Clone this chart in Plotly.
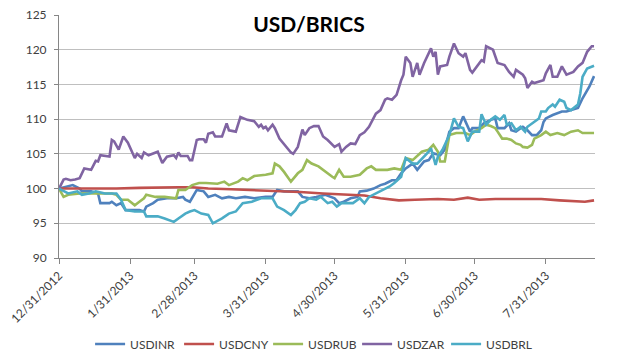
import plotly.graph_objects as go

# ---------------- data (index, 12/31/2012 = 100) ----------------
TICK_DATES = ["2012-12-31", "2013-01-31", "2013-02-28", "2013-03-31",
              "2013-04-30", "2013-05-31", "2013-06-30", "2013-07-31"]
TICK_LABELS = ["12/31/2012", "1/31/2013", "2/28/2013", "3/31/2013",
               "4/30/2013", "5/31/2013", "6/30/2013", "7/31/2013"]

INR_DATES = ["2012-12-31", "2013-01-03", "2013-01-06", "2013-01-09", "2013-01-10", "2013-01-14",
             "2013-01-17", "2013-01-18", "2013-01-22", "2013-01-23", "2013-01-25", "2013-01-27",
             "2013-01-29", "2013-02-04", "2013-02-06", "2013-02-07", "2013-02-10", "2013-02-12",
             "2013-02-16", "2013-02-20", "2013-02-23", "2013-02-24", "2013-02-26", "2013-03-01",
             "2013-03-04", "2013-03-06", "2013-03-09", "2013-03-12", "2013-03-15", "2013-03-18",
             "2013-03-22", "2013-03-26", "2013-03-31", "2013-04-03", "2013-04-05", "2013-04-08",
             "2013-04-14", "2013-04-16", "2013-04-19", "2013-04-22", "2013-04-26", "2013-04-30",
             "2013-05-02", "2013-05-04", "2013-05-07", "2013-05-10", "2013-05-11", "2013-05-14",
             "2013-05-17", "2013-05-20", "2013-05-22", "2013-05-25", "2013-05-27", "2013-05-29",
             "2013-05-31", "2013-06-03", "2013-06-05", "2013-06-08", "2013-06-10", "2013-06-12",
             "2013-06-15", "2013-06-17", "2013-06-19", "2013-06-21", "2013-06-23", "2013-06-25",
             "2013-06-28", "2013-06-29", "2013-07-02", "2013-07-04", "2013-07-07", "2013-07-09",
             "2013-07-10", "2013-07-13", "2013-07-15", "2013-07-16", "2013-07-18", "2013-07-20",
             "2013-07-21", "2013-07-23", "2013-07-25", "2013-07-27", "2013-07-29", "2013-07-30",
             "2013-07-31", "2013-08-03", "2013-08-05", "2013-08-07", "2013-08-09", "2013-08-11",
             "2013-08-14", "2013-08-16", "2013-08-19", "2013-08-21"]
INR_VALUES = [100.0, 100.3, 100.5, 100.0, 99.6, 99.6,
              99.3, 97.9, 97.9, 98.1, 97.6, 97.9,
              96.9, 96.9, 96.7, 97.4, 97.9, 98.4,
              98.6, 98.6, 98.8, 98.4, 98.1, 99.8,
              99.6, 98.8, 99.1, 98.6, 98.8, 98.6,
              98.8, 98.6, 98.8, 98.8, 99.8, 99.6,
              99.6, 98.8, 98.6, 98.8, 99.1, 98.6,
              97.9, 98.1, 98.6, 98.8, 99.6, 99.7,
              100.0, 100.5, 100.7, 101.2, 101.2, 102.2,
              102.9, 103.6, 102.7, 103.9, 104.1, 105.1,
              104.8, 105.6, 108.2, 108.7, 108.7, 110.4,
              108.2, 108.7, 108.7, 109.4, 109.9, 110.1,
              108.7, 108.7, 109.4, 108.4, 108.2, 108.7,
              108.9, 108.4, 107.7, 107.7, 108.4, 109.6,
              110.1, 110.6, 110.8, 111.1, 111.1, 111.3,
              111.6, 113.0, 114.7, 116.2]

CNY_DATES = ["2012-12-31", "2013-01-03", "2013-01-07", "2013-01-15", "2013-01-25", "2013-02-04",
             "2013-02-14", "2013-02-21", "2013-02-27", "2013-03-06", "2013-03-16", "2013-03-26",
             "2013-04-05", "2013-04-15", "2013-04-25", "2013-05-05", "2013-05-13", "2013-05-20",
             "2013-05-28", "2013-06-04", "2013-06-14", "2013-06-21", "2013-06-27", "2013-07-02",
             "2013-07-09", "2013-07-19", "2013-07-29", "2013-08-06", "2013-08-13", "2013-08-17",
             "2013-08-21"]
CNY_VALUES = [100.0, 100.0, 99.9, 99.9, 100.0, 100.1,
              100.2, 100.2, 100.2, 100.0, 99.9, 99.8,
              99.7, 99.5, 99.3, 99.1, 99.0, 98.6,
              98.3, 98.4, 98.5, 98.4, 98.7, 98.4,
              98.5, 98.5, 98.5, 98.3, 98.2, 98.1,
              98.3]

RUB_DATES = ["2012-12-31", "2013-01-02", "2013-01-04", "2013-01-09", "2013-01-14", "2013-01-19",
             "2013-01-23", "2013-01-25", "2013-01-27", "2013-01-30", "2013-02-02", "2013-02-04",
             "2013-02-06", "2013-02-07", "2013-02-11", "2013-02-15", "2013-02-20", "2013-02-21",
             "2013-02-24", "2013-02-27", "2013-03-02", "2013-03-05", "2013-03-07", "2013-03-10",
             "2013-03-13", "2013-03-15", "2013-03-19", "2013-03-21", "2013-03-23", "2013-03-26",
             "2013-03-31", "2013-04-03", "2013-04-04", "2013-04-06", "2013-04-08", "2013-04-11",
             "2013-04-14", "2013-04-16", "2013-04-18", "2013-04-20", "2013-04-23", "2013-04-26",
             "2013-04-29", "2013-04-30", "2013-05-02", "2013-05-04", "2013-05-07", "2013-05-11",
             "2013-05-14", "2013-05-16", "2013-05-18", "2013-05-23", "2013-05-26", "2013-05-29",
             "2013-05-31", "2013-06-03", "2013-06-07", "2013-06-10", "2013-06-12", "2013-06-14",
             "2013-06-15", "2013-06-17", "2013-06-19", "2013-06-22", "2013-06-26", "2013-06-28",
             "2013-06-30", "2013-07-03", "2013-07-05", "2013-07-07", "2013-07-09", "2013-07-10",
             "2013-07-12", "2013-07-14", "2013-07-16", "2013-07-18", "2013-07-20", "2013-07-21",
             "2013-07-23", "2013-07-25", "2013-07-26", "2013-07-29", "2013-07-31", "2013-08-02",
             "2013-08-05", "2013-08-08", "2013-08-11", "2013-08-14", "2013-08-16", "2013-08-21"]
RUB_VALUES = [100.0, 98.8, 99.1, 99.3, 99.3, 99.3,
              99.3, 99.1, 98.4, 98.4, 97.6, 98.1,
              98.6, 99.1, 98.8, 98.8, 98.6, 99.8,
              99.8, 100.5, 100.8, 100.8, 100.8, 100.7,
              101.0, 100.5, 101.0, 101.5, 101.2, 101.8,
              102.0, 102.2, 103.6, 103.2, 102.4, 101.0,
              102.2, 102.7, 104.1, 103.6, 103.2, 102.4,
              101.7, 101.5, 102.7, 101.7, 101.7, 102.0,
              102.9, 103.2, 102.7, 102.7, 102.9, 102.7,
              104.4, 104.1, 105.3, 105.6, 106.3, 105.3,
              103.9, 103.9, 107.7, 108.0, 108.0, 107.7,
              108.2, 108.7, 109.2, 109.0, 108.7, 108.2,
              107.2, 107.2, 107.0, 106.5, 106.3, 106.0,
              105.9, 106.3, 107.2, 107.7, 108.2, 107.7,
              108.0, 107.7, 108.2, 108.4, 108.0, 108.0]

ZAR_DATES = ["2012-12-31", "2013-01-02", "2013-01-03", "2013-01-05", "2013-01-07", "2013-01-09",
             "2013-01-11", "2013-01-14", "2013-01-16", "2013-01-17", "2013-01-18", "2013-01-22",
             "2013-01-23", "2013-01-24", "2013-01-26", "2013-01-28", "2013-01-30", "2013-01-31",
             "2013-02-02", "2013-02-03", "2013-02-05", "2013-02-06", "2013-02-08", "2013-02-12",
             "2013-02-14", "2013-02-16", "2013-02-19", "2013-02-20", "2013-02-21", "2013-02-22",
             "2013-02-25", "2013-02-26", "2013-02-27", "2013-03-01", "2013-03-02", "2013-03-04",
             "2013-03-05", "2013-03-06", "2013-03-08", "2013-03-09", "2013-03-12", "2013-03-14",
             "2013-03-15", "2013-03-18", "2013-03-20", "2013-03-23", "2013-03-26", "2013-03-27",
             "2013-03-28", "2013-03-29", "2013-03-30", "2013-03-31", "2013-04-01", "2013-04-03",
             "2013-04-04", "2013-04-06", "2013-04-09", "2013-04-11", "2013-04-12", "2013-04-14",
             "2013-04-16", "2013-04-17", "2013-04-19", "2013-04-21", "2013-04-23", "2013-04-24",
             "2013-04-25", "2013-04-27", "2013-04-30", "2013-05-02", "2013-05-03", "2013-05-05",
             "2013-05-07", "2013-05-09", "2013-05-11", "2013-05-13", "2013-05-15", "2013-05-18",
             "2013-05-20", "2013-05-22", "2013-05-23", "2013-05-25", "2013-05-26", "2013-05-27",
             "2013-05-29", "2013-05-30", "2013-05-31", "2013-06-02", "2013-06-03", "2013-06-05",
             "2013-06-06", "2013-06-08", "2013-06-11", "2013-06-12", "2013-06-13", "2013-06-14",
             "2013-06-15", "2013-06-18", "2013-06-19", "2013-06-21", "2013-06-23", "2013-06-25",
             "2013-06-26", "2013-06-28", "2013-06-29", "2013-07-03", "2013-07-04", "2013-07-05",
             "2013-07-08", "2013-07-10", "2013-07-13", "2013-07-15", "2013-07-17", "2013-07-18",
             "2013-07-21", "2013-07-22", "2013-07-23", "2013-07-25", "2013-07-26", "2013-07-30",
             "2013-07-31", "2013-08-02", "2013-08-03", "2013-08-05", "2013-08-07", "2013-08-09",
             "2013-08-12", "2013-08-14", "2013-08-16", "2013-08-18", "2013-08-20", "2013-08-21"]
ZAR_VALUES = [100.0, 101.3, 101.4, 101.2, 101.3, 101.5,
              102.9, 102.7, 104.0, 103.9, 104.8, 104.6,
              107.0, 106.8, 105.6, 107.5, 106.6, 105.8,
              104.4, 105.0, 104.4, 105.2, 104.8, 105.3,
              103.7, 104.6, 104.8, 104.4, 105.2, 104.7,
              104.7, 104.1, 104.1, 107.0, 107.1, 107.1,
              106.6, 107.9, 108.1, 107.5, 107.5, 109.4,
              108.4, 108.2, 110.3, 109.9, 109.7, 109.3,
              108.9, 109.2, 108.7, 108.9, 108.4, 109.2,
              108.7, 107.2, 106.0, 105.2, 105.0, 106.0,
              108.5, 107.7, 108.7, 109.0, 109.0, 108.3,
              107.5, 107.0, 106.0, 106.4, 105.3, 106.0,
              106.5, 106.4, 107.7, 108.1, 108.9, 110.8,
              111.3, 112.8, 113.0, 112.8, 113.2, 113.5,
              115.6, 116.4, 119.0, 118.1, 116.1, 118.1,
              116.4, 118.1, 120.2, 119.0, 119.7, 116.4,
              117.6, 117.8, 119.0, 120.9, 119.5, 119.0,
              119.5, 117.1, 116.7, 118.5, 118.3, 120.5,
              120.0, 118.1, 117.8, 116.8, 116.1, 117.1,
              116.4, 115.9, 114.5, 115.4, 115.2, 115.6,
              116.6, 117.8, 116.1, 116.1, 117.6, 116.4,
              116.8, 117.6, 118.1, 119.7, 120.5, 120.5]

BRL_DATES = ["2012-12-31", "2013-01-02", "2013-01-04", "2013-01-08", "2013-01-10", "2013-01-13",
             "2013-01-16", "2013-01-20", "2013-01-25", "2013-01-27", "2013-01-29", "2013-02-02",
             "2013-02-06", "2013-02-07", "2013-02-12", "2013-02-15", "2013-02-19", "2013-02-21",
             "2013-02-24", "2013-02-26", "2013-02-28", "2013-03-03", "2013-03-06", "2013-03-08",
             "2013-03-12", "2013-03-15", "2013-03-18", "2013-03-21", "2013-03-25", "2013-03-29",
             "2013-04-03", "2013-04-05", "2013-04-08", "2013-04-11", "2013-04-13", "2013-04-15",
             "2013-04-17", "2013-04-19", "2013-04-22", "2013-04-24", "2013-04-27", "2013-04-29",
             "2013-05-01", "2013-05-03", "2013-05-08", "2013-05-11", "2013-05-13", "2013-05-15",
             "2013-05-18", "2013-05-21", "2013-05-24", "2013-05-26", "2013-05-29", "2013-05-31",
             "2013-06-03", "2013-06-05", "2013-06-08", "2013-06-10", "2013-06-11", "2013-06-12",
             "2013-06-13", "2013-06-14", "2013-06-16", "2013-06-19", "2013-06-21", "2013-06-23",
             "2013-06-25", "2013-06-27", "2013-06-29", "2013-07-02", "2013-07-03", "2013-07-05",
             "2013-07-07", "2013-07-09", "2013-07-11", "2013-07-13", "2013-07-14", "2013-07-16",
             "2013-07-18", "2013-07-20", "2013-07-22", "2013-07-23", "2013-07-25", "2013-07-28",
             "2013-07-29", "2013-07-31", "2013-08-01", "2013-08-03", "2013-08-04", "2013-08-06",
             "2013-08-08", "2013-08-09", "2013-08-11", "2013-08-14", "2013-08-15", "2013-08-16",
             "2013-08-18", "2013-08-21"]
BRL_VALUES = [100.0, 99.6, 99.3, 99.6, 99.1, 99.3,
              99.6, 99.3, 99.3, 98.4, 96.9, 96.7,
              96.7, 96.0, 96.0, 95.7, 95.2, 95.7,
              96.4, 96.7, 96.9, 96.4, 96.2, 95.0,
              95.7, 96.4, 96.7, 97.9, 98.1, 98.6,
              98.6, 97.4, 96.9, 96.2, 96.9, 97.9,
              98.1, 98.6, 98.4, 98.8, 97.9, 98.1,
              97.4, 97.9, 97.9, 98.6, 97.9, 98.8,
              99.3, 99.8, 100.3, 100.8, 101.7, 104.4,
              103.6, 103.6, 104.6, 105.3, 105.8, 104.4,
              103.4, 104.6, 105.6, 107.7, 110.1, 108.9,
              108.7, 106.8, 108.2, 108.2, 110.7, 109.2,
              109.9, 110.4, 109.9, 110.6, 109.2, 109.4,
              108.4, 108.9, 108.2, 108.9, 109.4, 110.1,
              111.1, 111.1, 111.6, 112.1, 111.8, 112.8,
              112.5, 111.6, 111.3, 112.1, 113.7, 116.1,
              117.3, 117.7]

SERIES = [
    ("USDINR", INR_DATES, INR_VALUES, "#4F81BD"),
    ("USDCNY", CNY_DATES, CNY_VALUES, "#C0504D"),
    ("USDRUB", RUB_DATES, RUB_VALUES, "#9BBB59"),
    ("USDZAR", ZAR_DATES, ZAR_VALUES, "#8064A2"),
    ("USDBRL", BRL_DATES, BRL_VALUES, "#4BACC6"),
]

FONT = "Lato, 'Open Sans', 'Liberation Sans', sans-serif"

fig = go.Figure()
for name, dates, vals, color in SERIES:
    fig.add_trace(go.Scatter(
        x=dates, y=vals, name=name, mode="lines",
        line=dict(color=color, width=2.6),
    ))

fig.update_layout(
    width=619, height=364,
    margin=dict(l=59, r=24, t=15, b=106, autoexpand=False),
    paper_bgcolor="white", plot_bgcolor="white",
    font=dict(family=FONT, size=12, color="#404040"),
    title=dict(text="<b>USD/BRICS</b>", x=309 / 619, xanchor="center", xref="container",
               y=1 - 25 / 364, yanchor="middle", yref="container",
               font=dict(family=FONT, size=21, color="#000000")),
    showlegend=True,
    legend=dict(orientation="h", x=0.058, xanchor="left", y=-0.354, yanchor="middle",
                font=dict(family=FONT, size=12, color="#404040"),
                entrywidth=44, entrywidthmode="pixels",
                bgcolor="rgba(0,0,0,0)"),
    xaxis=dict(
        type="date", automargin=False,
        range=["2012-12-31", "2013-08-21 10:00"],
        tickmode="array", tickvals=TICK_DATES, ticktext=TICK_LABELS,
        tickangle=-45, ticks="outside", ticklen=5, tickcolor="#868686",
        showline=True, linecolor="#868686", linewidth=1,
        showgrid=False, zeroline=False,
        tickfont=dict(family=FONT, size=12, color="#404040"),
    ),
    yaxis=dict(
        automargin=False,
        range=[90, 125], tick0=90, dtick=5,
        ticks="outside", ticklen=4, tickcolor="#868686",
        showline=True, linecolor="#868686", linewidth=1,
        showgrid=True, gridcolor="#BFBFBF", gridwidth=1,
        zeroline=False, ticklabelstandoff=5,
        tickfont=dict(family=FONT, size=12, color="#404040"),
    ),
)

fig.write_html("out.html", config={"displayModeBar": False},
               post_script="document.body.style.margin='0';document.body.style.overflow='hidden';")
